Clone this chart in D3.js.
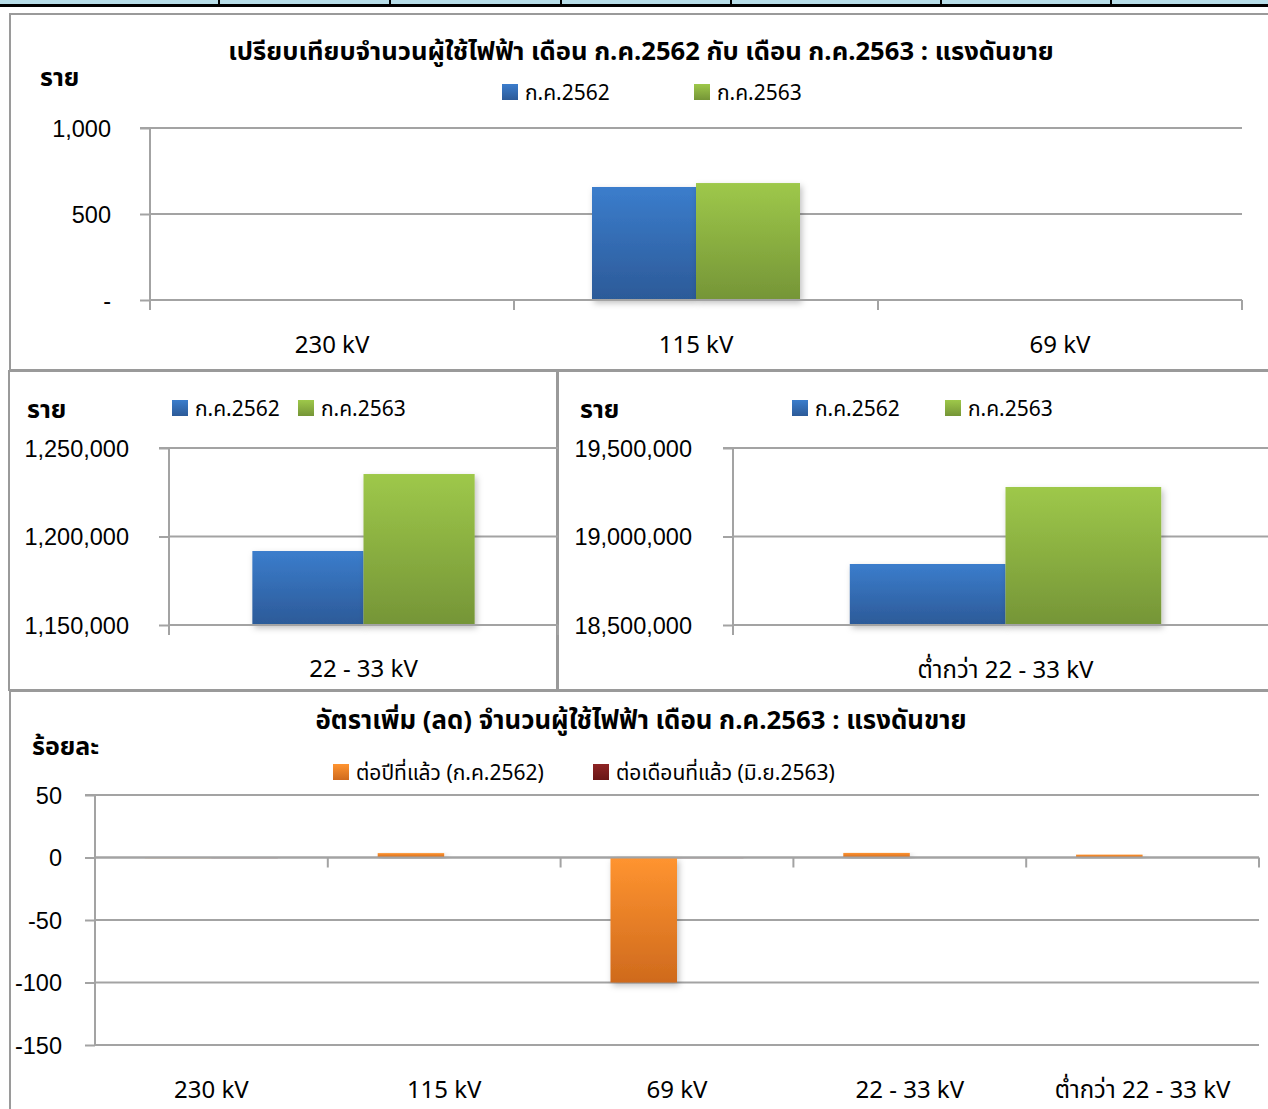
<!DOCTYPE html>
<html><head><meta charset="utf-8">
<script src="https://cdn.jsdelivr.net/npm/d3@7"></script>
<style>
body{margin:0;background:#fff;}
svg{display:block;font-family:"Leelawadee UI","Tahoma","Noto Sans Thai","Noto Sans","DejaVu Sans",sans-serif;}
</style></head><body>
<svg id="c" width="1268" height="1109"></svg>
<script>
// ---------- data ----------
const topCategories = ["230 kV", "115 kV", "69 kV"];
const topJul2562 = [2, 657, 1];
const topJul2563 = [2, 680, 0];
const topTicks = [0, 500, 1000];

const midLCategories = ["22 - 33 kV"];
const midLJul2562 = [1191800];
const midLJul2563 = [1235300];
const midLTicks = [1150000, 1200000, 1250000];

const midRCategories = ["ต่ำกว่า 22 - 33 kV"];
const midRJul2562 = [18844600];
const midRJul2563 = [19279700];
const midRTicks = [18500000, 19000000, 19500000];

const botCategories = ["230 kV", "115 kV", "69 kV", "22 - 33 kV", "ต่ำกว่า 22 - 33 kV"];
const botYoY = [0, 3.5, -100, 3.65, 2.3];
const botMoM = [0, 0.3, 0, 0.3, 0.2];
const botTicks = [-150, -100, -50, 0, 50];

const seriesNamesA = ["ก.ค.2562", "ก.ค.2563"];
const seriesNamesB = ["ต่อปีที่แล้ว (ก.ค.2562)", "ต่อเดือนที่แล้ว (มิ.ย.2563)"];

// ---------- setup ----------
const svg = d3.select("#c");
const defs = svg.append("defs");
function grad(id, c1, c2){
  const g = defs.append("linearGradient").attr("id", id).attr("x1",0).attr("y1",0).attr("x2",0).attr("y2",1);
  g.append("stop").attr("offset","0%").attr("stop-color",c1);
  g.append("stop").attr("offset","100%").attr("stop-color",c2);
}
grad("gBlue", "#3b7dcc", "#2c5a98");
grad("gGreen", "#9ec84a", "#759537");
grad("gOrange", "#ff9430", "#cf6a1d");
grad("gMaroon", "#8e2424", "#6a1616");
const f = defs.append("filter").attr("id","sh").attr("x","-10%").attr("y","-10%").attr("width","130%").attr("height","130%");
f.append("feDropShadow").attr("dx",2).attr("dy",3).attr("stdDeviation",3).attr("flood-color","#000").attr("flood-opacity",0.25);

const GRID = "#a3a3a3";
const numFmt = d => d3.format(",")(d).replace("−","-");

// top strip (table remnants)
svg.append("rect").attr("x",0).attr("y",0).attr("width",1268).attr("height",5).attr("fill","#b7dde8");
[218, 389, 560, 730, 940, 1110].forEach(x=>{
  svg.append("rect").attr("x",x).attr("y",0).attr("width",2).attr("height",5).attr("fill","#000");
});
svg.append("rect").attr("x",0).attr("y",4).attr("width",1268).attr("height",3).attr("fill","#000");

// panel borders
function panel(x,y,w,h){
  svg.append("rect").attr("x",x).attr("y",y).attr("width",w).attr("height",h)
    .attr("fill","#fff").attr("stroke","#9a9a9a").attr("stroke-width",2);
}
panel(10,14,1270,356);
panel(9,371,548,319);
panel(558,371,720,319);
panel(10,691,1270,430);

function txt(x,y,s,opts={}){
  return svg.append("text").attr("x",x).attr("y",y).text(s)
    .attr("font-size",opts.size||22).attr("font-weight",opts.bold?"bold":"normal")
    .attr("text-anchor",opts.anchor||"start").attr("fill","#000");
}
function legend(items){
  items.forEach(it=>{
    svg.append("rect").attr("x",it.x).attr("y",it.y).attr("width",16).attr("height",16).attr("fill",`url(#${it.fill})`);
    txt(it.x+23, it.y+16, it.label, {size:21});
  });
}

// generic bar chart
function barChart(cfg){
  const g = svg.append("g");
  const y = d3.scaleLinear().domain(cfg.domain).range([cfg.y1, cfg.y0]);
  const x0 = d3.scaleBand().domain(cfg.categories).range([cfg.x0, cfg.x1]).padding(0);
  const x1 = d3.scaleBand().domain(d3.range(cfg.series.length)).range([0, x0.bandwidth()]).paddingInner(0).paddingOuter(0.75);
  const base = cfg.base===undefined ? cfg.domain[0] : cfg.base;
  // gridlines
  g.selectAll(".grid").data(cfg.ticks).join("line")
    .attr("x1",cfg.x0).attr("x2",cfg.x1).attr("y1",d=>y(d)).attr("y2",d=>y(d))
    .attr("stroke",GRID).attr("stroke-width",2);
  // y axis
  const ya = g.append("g").attr("transform",`translate(${cfg.x0},0)`)
    .call(d3.axisLeft(y).tickValues(cfg.ticks).tickSize(10).tickPadding(cfg.tickPad||29).tickFormat(cfg.fmt));
  ya.select(".domain").attr("stroke",GRID).attr("stroke-width",2).attr("d",`M-10,${cfg.y0}H0V${cfg.base===undefined?cfg.y1+10:cfg.y1}`);
  ya.selectAll(".tick line").attr("stroke",GRID).attr("stroke-width",2);
  ya.selectAll(".tick text").attr("font-size",23.5).attr("fill","#000").attr("font-family","inherit").attr("dy","0.35em");
  // bars
  cfg.series.forEach((vals, si)=>{
    g.selectAll(null).data(vals).join("rect")
      .attr("x",(d,i)=>x0(cfg.categories[i]) + x1(si))
      .attr("width",x1.bandwidth())
      .attr("y",d=>y(Math.max(base,d)))
      .attr("height",d=>Math.max(0.6,Math.abs(y(d)-y(base))))
      .attr("fill",`url(#${cfg.fills[si]})`)
      .attr("filter","url(#sh)");
  });
  // category axis
  const axisY = y(base);
  const bounds = cfg.categories.map(c=>x0(c)).concat([x0(cfg.categories[cfg.categories.length-1])+x0.bandwidth()]);
  g.append("line").attr("x1",cfg.x0).attr("x2",cfg.x1).attr("y1",axisY).attr("y2",axisY).attr("stroke",GRID).attr("stroke-width",2);
  g.selectAll(".ct").data(bounds.slice(1)).join("line")
    .attr("x1",d=>d).attr("x2",d=>d).attr("y1",axisY).attr("y2",axisY+10).attr("stroke",GRID).attr("stroke-width",2);
  cfg.categories.forEach(c=>{
    txt(x0(c)+x0.bandwidth()/2, cfg.labelY, c, {anchor:"middle", size:24});
  });
  return {x0,y};
}

// ---------- top chart ----------
txt(641, 60, "เปรียบเทียบจำนวนผู้ใช้ไฟฟ้า เดือน ก.ค.2562 กับ เดือน ก.ค.2563 : แรงดันขาย", {bold:true, size:25.6, anchor:"middle"});
txt(40, 86, "ราย", {bold:true, size:25});
legend([{x:502,y:84,fill:"gBlue",label:seriesNamesA[0]},{x:694,y:84,fill:"gGreen",label:seriesNamesA[1]}]);
barChart({categories:topCategories, series:[topJul2562, topJul2563], fills:["gBlue","gGreen"],
  domain:[0,1000], ticks:topTicks, x0:150, x1:1242, y0:128, y1:300, labelY:353, tickPad:29,
  fmt:d=>d===0?"-":numFmt(d)});

// ---------- middle left ----------
txt(27, 418, "ราย", {bold:true, size:25});
legend([{x:172,y:400,fill:"gBlue",label:seriesNamesA[0]},{x:298,y:400,fill:"gGreen",label:seriesNamesA[1]}]);
barChart({categories:midLCategories, series:[midLJul2562, midLJul2563], fills:["gBlue","gGreen"],
  domain:[1150000,1250000], ticks:midLTicks, x0:169, x1:558, y0:448, y1:625, labelY:677, tickPad:30,
  fmt:numFmt});

// ---------- middle right ----------
txt(580, 418, "ราย", {bold:true, size:25});
legend([{x:792,y:400,fill:"gBlue",label:seriesNamesA[0]},{x:945,y:400,fill:"gGreen",label:seriesNamesA[1]}]);
barChart({categories:midRCategories, series:[midRJul2562, midRJul2563], fills:["gBlue","gGreen"],
  domain:[18500000,19500000], ticks:midRTicks, x0:733, x1:1278, y0:448, y1:625, labelY:678, tickPad:31,
  fmt:numFmt});

// ---------- bottom chart ----------
txt(641, 729, "อัตราเพิ่ม (ลด) จำนวนผู้ใช้ไฟฟ้า เดือน ก.ค.2563 : แรงดันขาย", {bold:true, size:25.8, anchor:"middle"});
txt(32, 755, "ร้อยละ", {bold:true, size:25});
legend([{x:333,y:764,fill:"gOrange",label:seriesNamesB[0]},{x:593,y:764,fill:"gMaroon",label:seriesNamesB[1]}]);
barChart({categories:botCategories, series:[botYoY, botMoM], fills:["gOrange","gMaroon"],
  domain:[-150,50], ticks:botTicks, x0:95, x1:1259, y0:795, y1:1045, base:0, labelY:1098, tickPad:23,
  fmt:numFmt});
</script></body></html>
